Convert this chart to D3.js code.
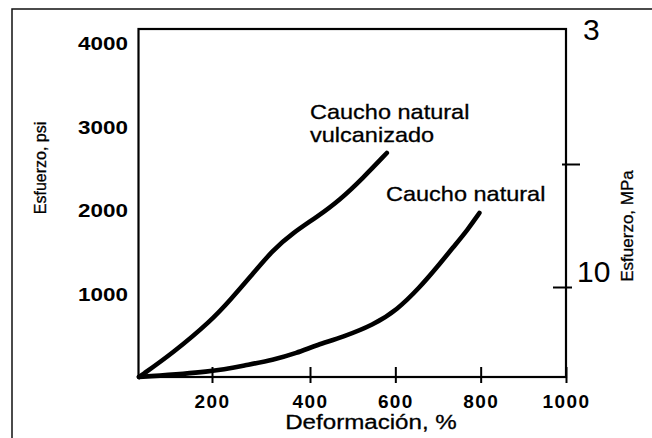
<!DOCTYPE html>
<html>
<head>
<meta charset="utf-8">
<script src="https://cdn.jsdelivr.net/npm/d3@7"></script>
<style>
  body { margin: 0; background: #fff; }
  svg { display: block; font-family: "Liberation Sans", Arial, sans-serif; }
</style>
</head>
<body>
<div id="chart"></div>
<script>
// values (strain %, stress psi)
const strainVulcanizado = [0, 93, 200, 237, 278, 324, 365, 416, 470, 524, 580];
const stressVulcanizado = [0, 287, 683, 922, 1198, 1521, 1725, 1916, 2120, 2383, 2683];
const strainNatural = [0, 200, 271, 324, 373, 416, 477, 548, 604, 658, 698, 736, 769, 797];
const stressNatural = [0, 60, 144, 204, 287, 383, 479, 623, 802, 1078, 1317, 1557, 1760, 1964];

const xTicks = [200, 400, 600, 800, 1000];
const yTicks = [1000, 2000, 3000, 4000];
const mpaTicks = [10, 20];
const mpaLabelValues = [10, 30];
const mpaLabelTexts = ['10', '3'];

const width = 652;
const height = 438;
const plotLeft = 138.5, plotRight = 566, plotTop = 29, plotBottom = 377;

const svg = d3.select('#chart')
  .append('svg')
  .attr('width', width)
  .attr('height', height);

// the scanned axis is not quite even, so the strain scale is piecewise
const x = d3.scaleLinear()
  .domain([0, 200, 400, 1000])
  .range([plotLeft + 0.5, 212, 310, plotRight]);

const y = d3.scaleLinear()
  .domain([0, 4000])
  .range([plotBottom, 43]);

// right-hand MPa axis as printed
const yMpa = d3.scaleLinear()
  .domain([10, 20])
  .range([287, 164]);

// outer frame (only top and left edges visible)
svg.append('path')
  .attr('d', `M12,${height} V9 H${width}`)
  .attr('fill', 'none')
  .attr('stroke', '#111')
  .attr('stroke-width', 1.5);

// plot box
svg.append('rect')
  .attr('x', plotLeft)
  .attr('y', plotTop)
  .attr('width', plotRight - plotLeft)
  .attr('height', plotBottom - plotTop)
  .attr('fill', 'none')
  .attr('stroke', '#000')
  .attr('stroke-width', 2.2);

// left axis: labels only
const yAxis = svg.append('g')
  .attr('transform', `translate(${plotLeft},0)`)
  .call(d3.axisLeft(y).tickValues(yTicks).tickSize(0).tickFormat(d3.format('d')));
yAxis.select('.domain').remove();
yAxis.selectAll('text')
  .attr('x', -9)
  .attr('dy', '0.36em')
  .attr('transform', 'scale(1.18,1)')
  .style('font-size', '19px')
  .style('font-weight', 'bold')
  .style('fill', '#000');

// bottom axis: ticks crossing the line
const xAxis = svg.append('g')
  .attr('transform', `translate(0,${plotBottom})`)
  .call(d3.axisBottom(x).tickValues(xTicks).tickFormat(d3.format('d')));
xAxis.select('.domain').remove();
xAxis.selectAll('line')
  .attr('y1', -10)
  .attr('y2', 6)
  .attr('stroke', '#000')
  .attr('stroke-width', 2);
xAxis.selectAll('text')
  .attr('y', 31)
  .attr('dy', 0)
  .style('font-size', '19px')
  .style('font-weight', 'bold')
  .style('letter-spacing', '1.4px')
  .style('fill', '#000');

// right axis: ticks crossing the line
const rAxis = svg.append('g')
  .attr('transform', `translate(${plotRight},0)`)
  .call(d3.axisRight(yMpa).tickValues(mpaTicks).tickFormat(''));
rAxis.select('.domain').remove();
rAxis.selectAll('line')
  .attr('x1', d => d === 20 ? -4 : -13)
  .attr('x2', d => d === 20 ? 14 : 6)
  .attr('stroke', '#000')
  .attr('stroke-width', 2);

svg.append('g')
  .selectAll('text')
  .data(mpaLabelValues)
  .enter().append('text')
  .attr('x', (d, i) => i === 0 ? 577 : 583)
  .attr('y', d => yMpa(d) - (d === 30 ? 1 : 5))
  .style('font-size', '30px')
  .style('fill', '#000')
  .text((d, i) => mpaLabelTexts[i]);

// curves
const line = d3.line()
  .x(d => x(d[0]))
  .y(d => y(d[1]))
  .curve(d3.curveBasis);

svg.append('path')
  .datum(d3.zip(strainVulcanizado, stressVulcanizado))
  .attr('d', line)
  .attr('fill', 'none')
  .attr('stroke', '#000')
  .attr('stroke-width', 4.6)
  .attr('stroke-linecap', 'round');

svg.append('path')
  .datum(d3.zip(strainNatural, stressNatural))
  .attr('d', line)
  .attr('fill', 'none')
  .attr('stroke', '#000')
  .attr('stroke-width', 4.6)
  .attr('stroke-linecap', 'round');

// stretched text helper (the scan is a little wider than tall)
function stretchedText(px, py, txt, size, sx, anchor, rotate) {
  const g = svg.append('g')
    .attr('transform', `translate(${px},${py})` + (rotate ? ` rotate(${rotate})` : '') + ` scale(${sx},1)`);
  g.append('text')
    .attr('text-anchor', anchor || 'start')
    .style('font-size', size + 'px')
    .style('fill', '#000')
    .style('stroke', '#000')
    .style('stroke-width', 0.3)
    .text(txt);
}

stretchedText(310, 119, 'Caucho natural', 21, 1.12);
stretchedText(310, 142, 'vulcanizado', 21, 1.12);
stretchedText(386, 201, 'Caucho natural', 21, 1.12);

stretchedText(371, 429, 'Deformación, %', 21, 1.15, 'middle');
stretchedText(46, 168, 'Esfuerzo, psi', 16, 1, 'middle', -90);
stretchedText(633, 226, 'Esfuerzo, MPa', 17, 1, 'middle', -90);
</script>
</body>
</html>
